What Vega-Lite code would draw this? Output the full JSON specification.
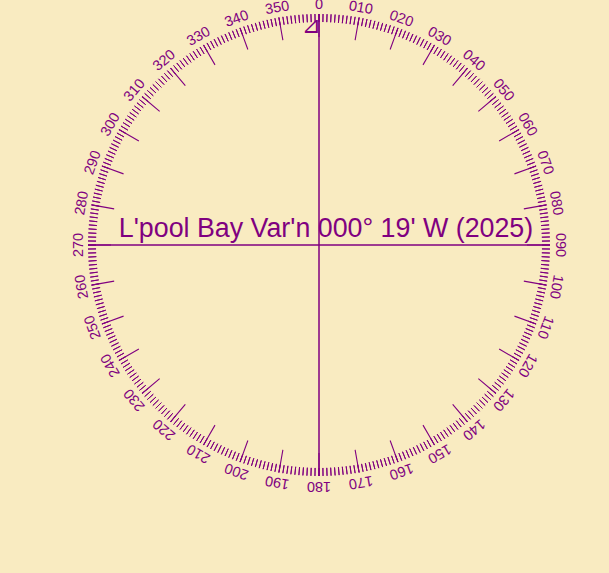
{
  "$schema": "https://vega.github.io/schema/vega-lite/v6.json",
  "width": 462,
  "height": 462,
  "autosize": {"type": "none"},
  "padding": {"left": 88, "top": 14, "right": 59, "bottom": 97},
  "background": "#f9ebc1",
  "config": {"view": {"stroke": null}},
  "datasets": {
    "deg": [0,1,2,3,4,5,6,7,8,9,10,11,12,13,14,15,16,17,18,19,20,21,22,23,24,25,26,27,28,29,30,31,32,33,34,35,36,37,38,39,40,41,42,43,44,45,46,47,48,49,50,51,52,53,54,55,56,57,58,59,60,61,62,63,64,65,66,67,68,69,70,71,72,73,74,75,76,77,78,79,80,81,82,83,84,85,86,87,88,89,90,91,92,93,94,95,96,97,98,99,100,101,102,103,104,105,106,107,108,109,110,111,112,113,114,115,116,117,118,119,120,121,122,123,124,125,126,127,128,129,130,131,132,133,134,135,136,137,138,139,140,141,142,143,144,145,146,147,148,149,150,151,152,153,154,155,156,157,158,159,160,161,162,163,164,165,166,167,168,169,170,171,172,173,174,175,176,177,178,179,180,181,182,183,184,185,186,187,188,189,190,191,192,193,194,195,196,197,198,199,200,201,202,203,204,205,206,207,208,209,210,211,212,213,214,215,216,217,218,219,220,221,222,223,224,225,226,227,228,229,230,231,232,233,234,235,236,237,238,239,240,241,242,243,244,245,246,247,248,249,250,251,252,253,254,255,256,257,258,259,260,261,262,263,264,265,266,267,268,269,270,271,272,273,274,275,276,277,278,279,280,281,282,283,284,285,286,287,288,289,290,291,292,293,294,295,296,297,298,299,300,301,302,303,304,305,306,307,308,309,310,311,312,313,314,315,316,317,318,319,320,321,322,323,324,325,326,327,328,329,330,331,332,333,334,335,336,337,338,339,340,341,342,343,344,345,346,347,348,349,350,351,352,353,354,355,356,357,358,359],
    "labels": [
      {"b": 0, "t": "0"}, {"b": 10, "t": "010"}, {"b": 20, "t": "020"}, {"b": 30, "t": "030"},
      {"b": 40, "t": "040"}, {"b": 50, "t": "050"}, {"b": 60, "t": "060"}, {"b": 70, "t": "070"},
      {"b": 80, "t": "080"}, {"b": 90, "t": "090"}, {"b": 100, "t": "100"}, {"b": 110, "t": "110"},
      {"b": 120, "t": "120"}, {"b": 130, "t": "130"}, {"b": 140, "t": "140"}, {"b": 150, "t": "150"},
      {"b": 160, "t": "160"}, {"b": 170, "t": "170"}, {"b": 180, "t": "180"}, {"b": 190, "t": "190"},
      {"b": 200, "t": "200"}, {"b": 210, "t": "210"}, {"b": 220, "t": "220"}, {"b": 230, "t": "230"},
      {"b": 240, "t": "240"}, {"b": 250, "t": "250"}, {"b": 260, "t": "260"}, {"b": 270, "t": "270"},
      {"b": 280, "t": "280"}, {"b": 290, "t": "290"}, {"b": 300, "t": "300"}, {"b": 310, "t": "310"},
      {"b": 320, "t": "320"}, {"b": 330, "t": "330"}, {"b": 340, "t": "340"}, {"b": 350, "t": "350"}
    ]
  },
  "layer": [
    {
      "data": {"name": "deg"},
      "mark": {"type": "arc", "outerRadius": 231, "innerRadius": 223, "filled": false, "color": "#800080", "strokeWidth": 1},
      "encoding": {
        "theta": {"field": "data", "type": "quantitative", "stack": null, "scale": {"domain": [0, 360], "range": [0, 6.283185307179586]}},
        "theta2": {"field": "data"}
      }
    },
    {
      "data": {"name": "deg"},
      "transform": [{"filter": "datum.data % 10 === 0"}],
      "mark": {"type": "arc", "outerRadius": 231, "innerRadius": 208, "filled": false, "color": "#800080", "strokeWidth": 1.1},
      "encoding": {
        "theta": {"field": "data", "type": "quantitative", "stack": null, "scale": {"domain": [0, 360], "range": [0, 6.283185307179586]}},
        "theta2": {"field": "data"}
      }
    },
    {
      "data": {"name": "deg"},
      "transform": [{"filter": "datum.data % 90 === 0"}],
      "mark": {"type": "arc", "outerRadius": 231, "innerRadius": 0, "filled": false, "color": "#800080", "strokeWidth": 1},
      "encoding": {
        "theta": {"field": "data", "type": "quantitative", "stack": null, "scale": {"domain": [0, 360], "range": [0, 6.283185307179586]}},
        "theta2": {"field": "data"}
      }
    },
    {
      "data": {"values": [{"b": 0, "s": "⊿"}]},
      "mark": {"type": "text", "radius": 212, "font": "DejaVu Sans", "fontSize": 23, "align": "right", "baseline": "alphabetic", "dx": 2, "color": "#800080"},
      "encoding": {
        "theta": {"field": "b", "type": "quantitative", "stack": null, "scale": {"domain": [0, 360], "range": [0, 6.283185307179586]}},
        "text": {"field": "s"}
      }
    },
    {
      "data": {"name": "labels"},
      "mark": {"type": "text", "radius": 236.5, "font": "Liberation Sans", "fontSize": 14.5, "align": "center", "baseline": "alphabetic", "color": "#800080"},
      "encoding": {
        "theta": {"field": "b", "type": "quantitative", "stack": null, "scale": {"domain": [0, 360], "range": [0, 6.283185307179586]}},
        "angle": {"field": "b", "type": "quantitative", "scale": null},
        "text": {"field": "t"}
      }
    },
    {
      "data": {"values": [{"t": "L'pool Bay Var'n 000° 19' W (2025)"}]},
      "mark": {"type": "text", "font": "Liberation Sans", "fontSize": 26.8, "align": "center", "baseline": "alphabetic", "dx": 7, "dy": -8.5, "color": "#800080"},
      "encoding": {
        "text": {"field": "t"}
      }
    }
  ]
}
